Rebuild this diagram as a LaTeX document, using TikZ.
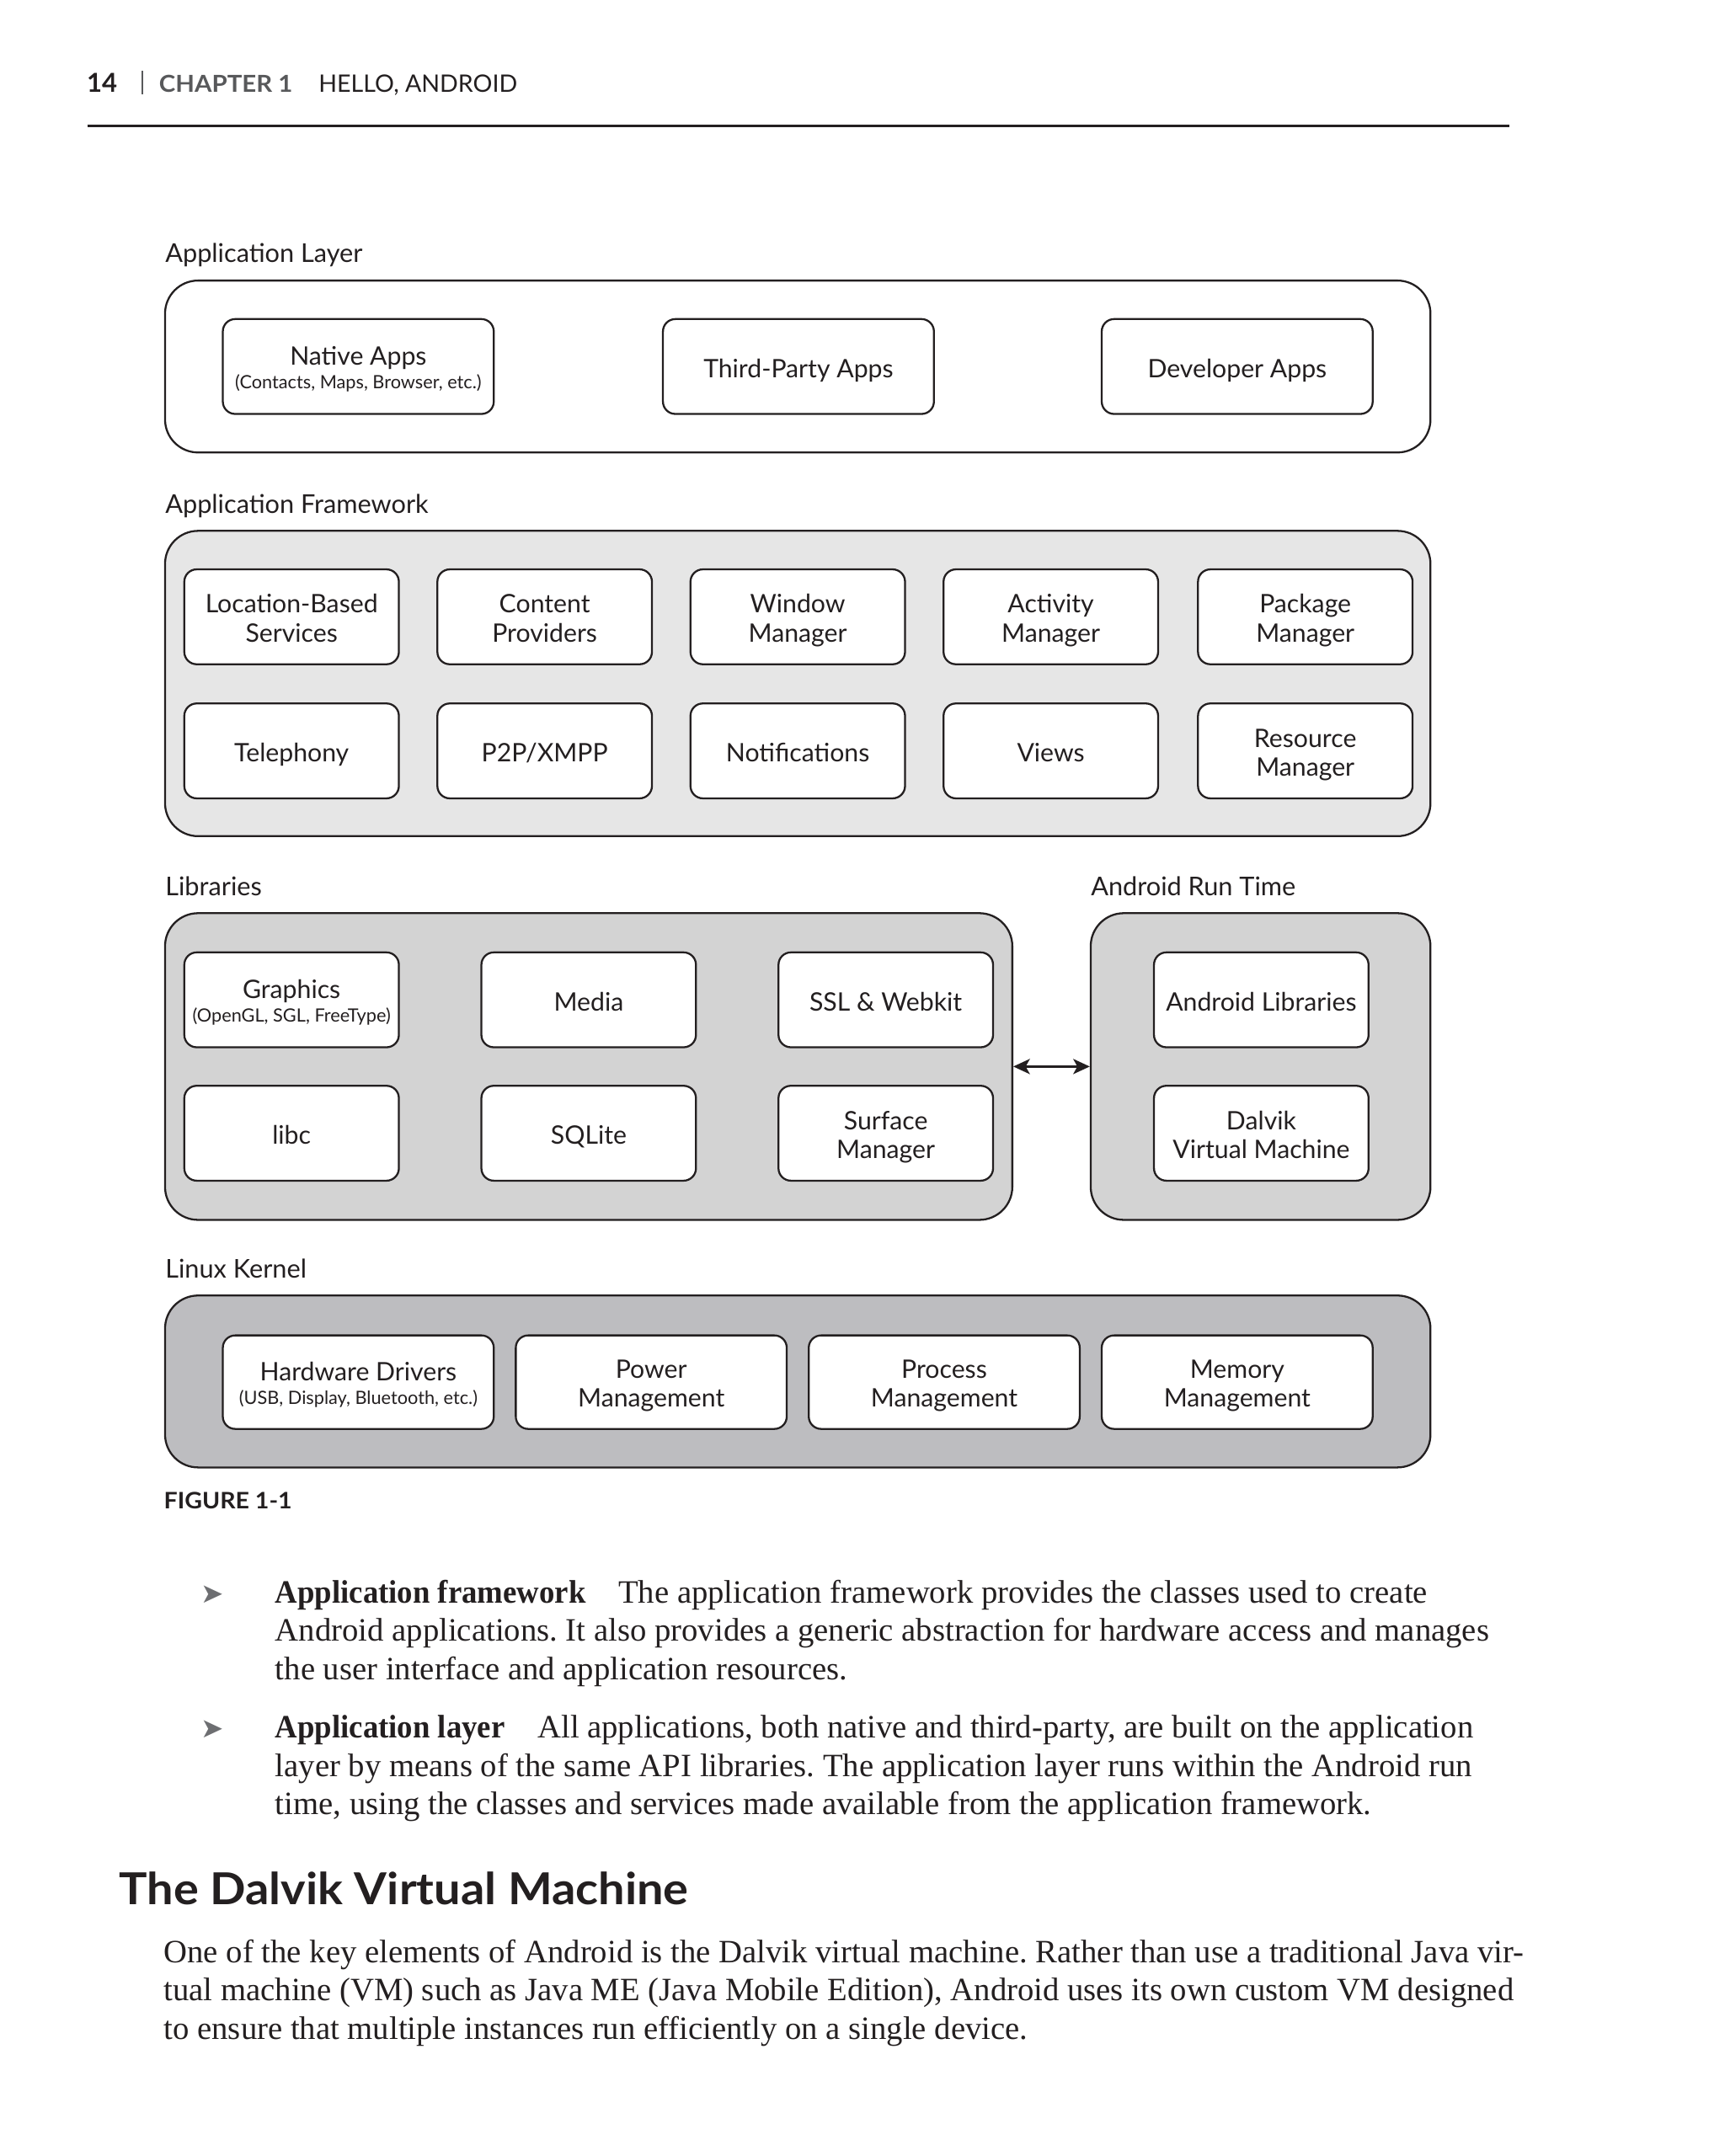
\documentclass[tikz,border=0pt]{standalone}
\usepackage{fontspec}
\setmainfont{Liberation Serif}
\newfontfamily\figfont{Lato}
\newfontfamily\symfont{DejaVu Sans}
\usetikzlibrary{arrows.meta}
\definecolor{ink}{HTML}{231F20}
\definecolor{fwfill}{HTML}{E6E6E6}
\definecolor{libfill}{HTML}{D3D3D3}
\definecolor{kernfill}{HTML}{BDBDC0}
\definecolor{headgray}{HTML}{58595B}
\definecolor{bulletgray}{HTML}{6D6E71}
\frenchspacing
\newcommand{\subtxt}[1]{{\figfont\fontsize{13.3}{15}\selectfont #1}}
\newcommand{\lead}[1]{\scalebox{0.95}[1]{\textbf{#1}}}
\newcommand{\mltxt}[1]{\raisebox{-3.5pt}[\height][\depth]{\begin{tabular}{@{}c@{}}#1\end{tabular}}}
\begin{document}
\begin{tikzpicture}[x=1pt,y=-1pt,
  outerbox/.style={draw=ink, line width=1.4pt, rounded corners=24pt, inner sep=0pt},
  ibase/.style={draw=ink, line width=1.4pt, fill=white, rounded corners=9pt, inner sep=0pt,
    text=ink, font=\figfont\fontsize{18.5}{21}\selectfont},
  ibox/.style={ibase, align=center,
    execute at begin node={\rule[-4.5pt]{0pt}{25pt}},
    execute at end node={\rule[-4.5pt]{0pt}{4.5pt}}},
  wbox/.style={ibox, minimum width=197pt, minimum height=69pt},
  nbox/.style={ibox, minimum width=156pt, minimum height=69pt},
  wmbox/.style={ibase, minimum width=197pt, minimum height=68pt},
  nmbox/.style={ibase, minimum width=156pt, minimum height=69pt},
  lbl/.style={anchor=base west, inner sep=0pt, text=ink, font=\figfont\fontsize{18.8}{21}\selectfont},
  body/.style={anchor=base west, inner sep=0pt, text=ink, font=\fontsize{23.7}{28}\selectfont},
  bul/.style={anchor=base west, inner sep=0pt, text=bulletgray, font=\symfont\fontsize{20}{22}\selectfont},
  twoway/.style={ink, line width=1.6pt, {Stealth[length=12pt,width=11pt,inset=3pt]}-{Stealth[length=12pt,width=11pt,inset=3pt]}}
]
\useasboundingbox[fill=white] (0,0) rectangle (1254.1,1567.7);

% header
\node[anchor=base west, inner sep=0pt, text=ink, font=\figfont\bfseries\fontsize{19}{20}\selectfont] (pgnum) at (63,67) {14};
\draw[headgray, line width=0.8pt] (103.5,51.5) -- (103.5,68.5);
\node[anchor=base west, inner sep=0pt, text=headgray, font=\figfont\bfseries\fontsize{17}{20}\selectfont] (chap) at (115.5,67) {\scalebox{1.06}[1]{CHAPTER 1}};
\node[anchor=base west, inner sep=0pt, text=ink, font=\figfont\fontsize{17.5}{20}\selectfont] (title) at (231.5,67) {HELLO, ANDROID};
\draw[ink, line width=2pt] (63.5,91.5) -- (1097.5,91.5);

% Application layer
\node[lbl] (lblapp) at (120,190.5) {Application Layer};
\node[outerbox, fill=white, minimum width=920pt, minimum height=125pt] (applayer) at (580,266.5) {};
\node[wmbox, minimum height=69pt] (native) at (260.5,266.5) {\mltxt{Native Apps\\[-4pt]\subtxt{(Contacts, Maps, Browser, etc.)}}};
\node[wbox] (third) at (580.5,266.5) {Third-Party Apps};
\node[wbox] (dev) at (899.5,266.5) {Developer Apps};

% Application framework
\node[lbl] (lblfw) at (120,373.5) {Application Framework};
\node[outerbox, fill=fwfill, minimum width=920pt, minimum height=222pt] (framework) at (580,497) {};
\node[nmbox] (loc) at (212,448.5) {\mltxt{Location-Based\\Services}};
\node[nmbox] (content) at (396,448.5) {\mltxt{Content\\Providers}};
\node[nmbox] (window) at (580,448.5) {\mltxt{Window\\Manager}};
\node[nmbox] (activity) at (764,448.5) {\mltxt{Activity\\Manager}};
\node[nmbox] (package) at (949,448.5) {\mltxt{Package\\Manager}};
\node[nbox] (tele) at (212,546) {Telephony};
\node[nbox] (p2p) at (396,546) {P2P/XMPP};
\node[nbox] (notif) at (580,546) {Notifications};
\node[nbox] (views) at (764,546) {Views};
\node[nmbox] (resource) at (949,546) {\mltxt{Resource\\Manager}};

% Libraries
\node[lbl] (lbllib) at (120,651.5) {Libraries};
\node[lbl] (lblart) at (793,651.5) {Android Run Time};
\node[outerbox, fill=libfill, minimum width=616pt, minimum height=223pt] (libs) at (428,775.5) {};
\node[outerbox, fill=libfill, minimum width=247pt, minimum height=223pt] (art) at (916.5,775.5) {};
\node[nmbox] (graphics) at (212,727) {\mltxt{Graphics\\[-4pt]\subtxt{(OpenGL, SGL, FreeType)}}};
\node[nbox] (media) at (428,727) {Media};
\node[nbox] (ssl) at (644,727) {SSL \& Webkit};
\node[nbox] (libc) at (212,824) {libc};
\node[nbox] (sqlite) at (428,824) {SQLite};
\node[nmbox] (surface) at (644,824) {\mltxt{Surface\\Manager}};
\node[nbox] (andlib) at (917,727) {Android Libraries};
\node[nmbox] (dalvik) at (917,824) {\mltxt{Dalvik\\Virtual Machine}};
\draw[twoway] (libs.east) -- (art.west);

% Linux kernel
\node[lbl] (lblkern) at (120,929.5) {Linux Kernel};
\node[outerbox, fill=kernfill, minimum width=920pt, minimum height=125pt] (kernel) at (580,1004.5) {};
\node[wmbox] (hw) at (260.5,1005) {\mltxt{Hardware Drivers\\[-4pt]\subtxt{(USB, Display, Bluetooth, etc.)}}};
\node[wmbox] (power) at (473.5,1005) {\mltxt{Power\\Management}};
\node[wmbox] (process) at (686.5,1005) {\mltxt{Process\\Management}};
\node[wmbox] (memory) at (899.5,1005) {\mltxt{Memory\\Management}};

\node[anchor=base west, inner sep=0pt, text=ink, font=\figfont\bfseries\fontsize{16.5}{18}\selectfont] (figlbl) at (119,1097) {\scalebox{1.06}[1]{FIGURE 1-1}};

% body text
\node[bul] (b1) at (146,1165.5) {➤};
\node[body] (l1) at (200,1165.5) {\lead{Application framework}\hspace{1em}The application framework provides the classes used to create};
\node[body] (l2) at (200,1193.5) {Android applications. It also provides a generic abstraction for hardware access and manages};
\node[body] (l3) at (200,1221.5) {the user interface and application resources.};
\node[bul] (b2) at (146,1263.5) {➤};
\node[body] (l4) at (200,1263.5) {\lead{Application layer}\hspace{1em}All applications, both native and third-party, are built on the application};
\node[body] (l5) at (200,1291.5) {layer by means of the same API libraries. The application layer runs within the Android run};
\node[body] (l6) at (200,1319.5) {time, using the classes and services made available from the application framework.};

\node[anchor=base west, inner sep=0pt, text=ink, font=\figfont\bfseries\fontsize{32}{34}\selectfont] (head) at (86.5,1385) {\scalebox{1.07}[1]{The Dalvik Virtual Machine}};
\node[body] (p1) at (119,1427) {One of the key elements of Android is the Dalvik virtual machine. Rather than use a traditional Java vir-};
\node[body] (p2) at (119,1455) {tual machine (VM) such as Java ME (Java Mobile Edition), Android uses its own custom VM designed};
\node[body] (p3) at (119,1483) {to ensure that multiple instances run efficiently on a single device.};
\end{tikzpicture}
\end{document}
